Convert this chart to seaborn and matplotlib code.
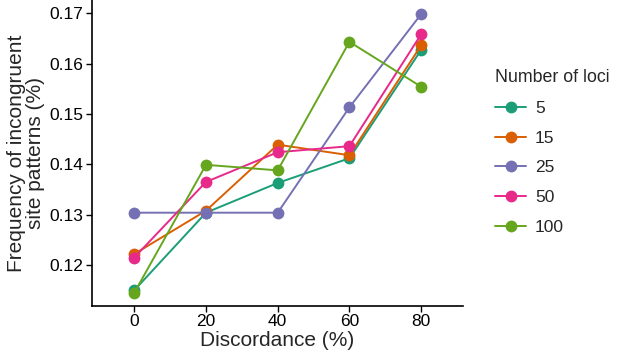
import numpy as np
import pandas as pd
import matplotlib
matplotlib.use("Agg")
import matplotlib.pyplot as plt
import seaborn as sns

# values
discordance = [0, 20, 40, 60, 80]
loci = ["5", "15", "25", "50", "100"]
freq_5 = [0.1150, 0.1304, 0.1363, 0.1412, 0.1627]
freq_15 = [0.1222, 0.1308, 0.1439, 0.1418, 0.1636]
freq_25 = [0.1304, 0.1304, 0.1304, 0.1513, 0.1698]
freq_50 = [0.1215, 0.1365, 0.1424, 0.1436, 0.1658]
freq_100 = [0.1145, 0.1399, 0.1388, 0.1643, 0.1554]

df = pd.DataFrame({
    "Discordance": discordance * 5,
    "Frequency": freq_5 + freq_15 + freq_25 + freq_50 + freq_100,
    "Number of loci": np.repeat(loci, len(discordance)),
})

sns.set_style("ticks")
plt.rcParams["font.family"] = ["Liberation Sans", "DejaVu Sans"]

fig = plt.figure(figsize=(6.17, 3.57), dpi=100)
ax = fig.add_axes([0.149, 0.143, 0.601, 0.857])

palette = ["#1B9E77", "#D95F02", "#7570B3", "#E7298A", "#66A61E"]
sns.lineplot(data=df, x="Discordance", y="Frequency", hue="Number of loci",
             hue_order=loci, palette=palette, marker="o", markersize=8.5,
             markeredgewidth=0, linewidth=1.4, ax=ax)

ax.set_xlim(-11.8, 91.6)
ax.set_ylim(0.1119, 0.1726)
ax.set_xticks(discordance)
ax.set_yticks([0.12, 0.13, 0.14, 0.15, 0.16, 0.17])
ax.set_yticklabels(["0.12", "0.13", "0.14", "0.15", "0.16", "0.17"])
ax.tick_params(labelsize=12.5, colors="black", length=4, width=1, pad=2)
ax.set_xlabel("Discordance (%)", fontsize=15, labelpad=1)
ax.set_ylabel("Frequency of incongruent\nsite patterns (%)", fontsize=15, labelpad=3,
              linespacing=1.0)
for s in ["left", "bottom"]:
    ax.spines[s].set_linewidth(1.2)
    ax.spines[s].set_color("black")
sns.despine(ax=ax)

leg = ax.legend(title="Number of loci", loc="upper left", bbox_to_anchor=(1.045, 0.825),
                frameon=False, fontsize=12.5, title_fontsize=12.8, handlelength=1.8,
                handletextpad=0.5, labelspacing=0.84, alignment="left")

fig.savefig("out.png", dpi=100)
